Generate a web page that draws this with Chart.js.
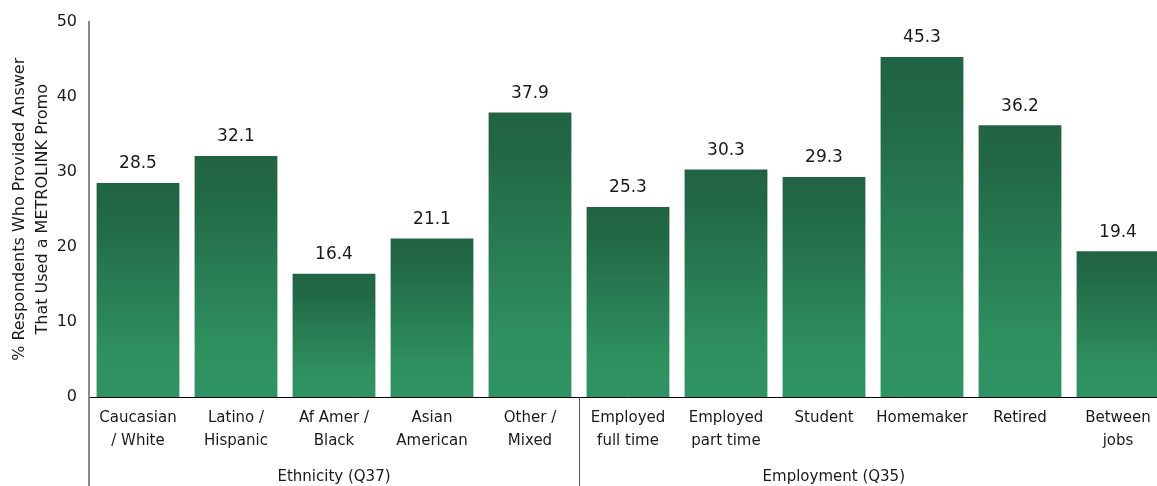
<!DOCTYPE html>
<html lang="en">
<head>
    <meta charset="UTF-8">
    <title>METROLINK Promo usage</title>
    <script src="https://cdn.jsdelivr.net/npm/chart.js@4/dist/chart.umd.min.js"></script>
    <style>
        html, body { margin: 0; padding: 0; background: #fff; overflow: hidden; }
        /* the original plot runs a little past the right edge of the picture */
        .chart-container { position: relative; width: 1167px; height: 486px; }
    </style>
</head>
<body>
<div class="chart-container"><canvas id="myChart"></canvas></div>

<script>
    // data
    let categories = [
        ["Caucasian", "/ White"], ["Latino /", "Hispanic"], ["Af Amer /", "Black"],
        ["Asian", "American"], ["Other /", "Mixed"],
        ["Employed", "full time"], ["Employed", "part time"], ["Student"],
        ["Homemaker"], ["Retired"], ["Between", "jobs"]
    ];
    let values = [28.5, 32.1, 16.4, 21.1, 37.9, 25.3, 30.3, 29.3, 45.3, 36.2, 19.4];
    let groupNames = ["Ethnicity (Q37)", "Employment (Q35)"];
    let groupSizes = [5, 6];
    let yTicks = [0, 10, 20, 30, 40, 50];
    let yTitle = ["% Respondents Who Provided Answer", "That Used a METROLINK Promo"];

    const FONT = "'DejaVu Sans', sans-serif";
    const TXT = "#1a1a1a";

    // vertical gradient for each bar, from its top down to 0
    function barColor(ctx) {
        let chart = ctx.chart;
        let y = chart.scales.y;
        if (!y || ctx.type !== 'data') return '#2a7d55';
        let top = y.getPixelForValue(ctx.raw);
        let bot = y.getPixelForValue(0);
        if (!isFinite(top) || !isFinite(bot) || top === bot) return '#2a7d55';
        let g = chart.ctx.createLinearGradient(0, top, 0, bot);
        g.addColorStop(0, '#216444');
        g.addColorStop(0.15, '#226846');
        g.addColorStop(0.8, '#2e905f');
        g.addColorStop(1, '#2f9464');
        return g;
    }

    let extras = {
        id: 'extras',
        afterDraw(chart) {
            let c = chart.ctx;
            let area = chart.chartArea;
            let xs = chart.scales.x;
            let meta = chart.getDatasetMeta(0);
            c.save();

            // value labels
            c.fillStyle = TXT;
            c.font = "17px " + FONT;
            c.textAlign = 'center';
            c.textBaseline = 'middle';
            meta.data.forEach(function (bar, i) {
                c.fillText(values[i].toFixed(1), bar.x, bar.y - 19);
            });

            // y axis line continues below the plot
            c.strokeStyle = '#8a8a8a';
            c.lineWidth = 2;
            c.beginPath();
            c.moveTo(area.left, area.bottom);
            c.lineTo(area.left, chart.height);
            c.stroke();

            // group separators + group labels
            let step = xs.getPixelForValue(1) - xs.getPixelForValue(0);
            let start = 0;
            let labelAt = [2, 7.1];
            c.font = "15px " + FONT;
            groupSizes.forEach(function (n, gi) {
                if (gi > 0) {
                    let sx = Math.round(xs.getPixelForValue(start) - step / 2) + 0.5;
                    c.strokeStyle = '#555';
                    c.lineWidth = 1;
                    c.beginPath();
                    c.moveTo(sx, area.bottom);
                    c.lineTo(sx, chart.height);
                    c.stroke();
                }
                c.fillText(groupNames[gi], xs.getPixelForValue(labelAt[gi]), 477);
                start += n;
            });
            c.restore();
        }
    };

    let myChart = new Chart(document.getElementById('myChart'), {
        type: 'bar',
        data: {
            labels: categories,
            datasets: [{
                data: values,
                backgroundColor: barColor,
                borderWidth: 0,
                categoryPercentage: 1.0,
                barPercentage: 0.845
            }]
        },
        options: {
            responsive: true,
            maintainAspectRatio: false,
            animation: false,
            layout: { padding: { left: 0, right: 0, top: 20, bottom: 0 } },
            plugins: { legend: { display: false }, tooltip: { enabled: false } },
            scales: {
                x: {
                    grid: { display: false, drawTicks: false },
                    border: { display: true, color: '#000', width: 1 },
                    ticks: {
                        color: TXT, font: { family: FONT, size: 15, lineHeight: 1.5 },
                        padding: 10, maxRotation: 0, autoSkip: false
                    },
                    afterFit: function (s) { s.height = 89; }
                },
                y: {
                    min: 0, max: 50,
                    grid: { display: false, drawTicks: false },
                    border: { display: true, color: '#8a8a8a', width: 2 },
                    afterBuildTicks: function (s) { s.ticks = yTicks.map(v => ({ value: v })); },
                    ticks: { color: TXT, font: { family: FONT, size: 16 }, padding: 12 },
                    title: {
                        display: true, text: yTitle, color: TXT,
                        font: { family: FONT, size: 16, lineHeight: 1.4 },
                        padding: { top: 9, bottom: 0 }
                    },
                    afterFit: function (s) { s.width = 89; }
                }
            }
        },
        plugins: [extras]
    });
</script>
</body>
</html>
